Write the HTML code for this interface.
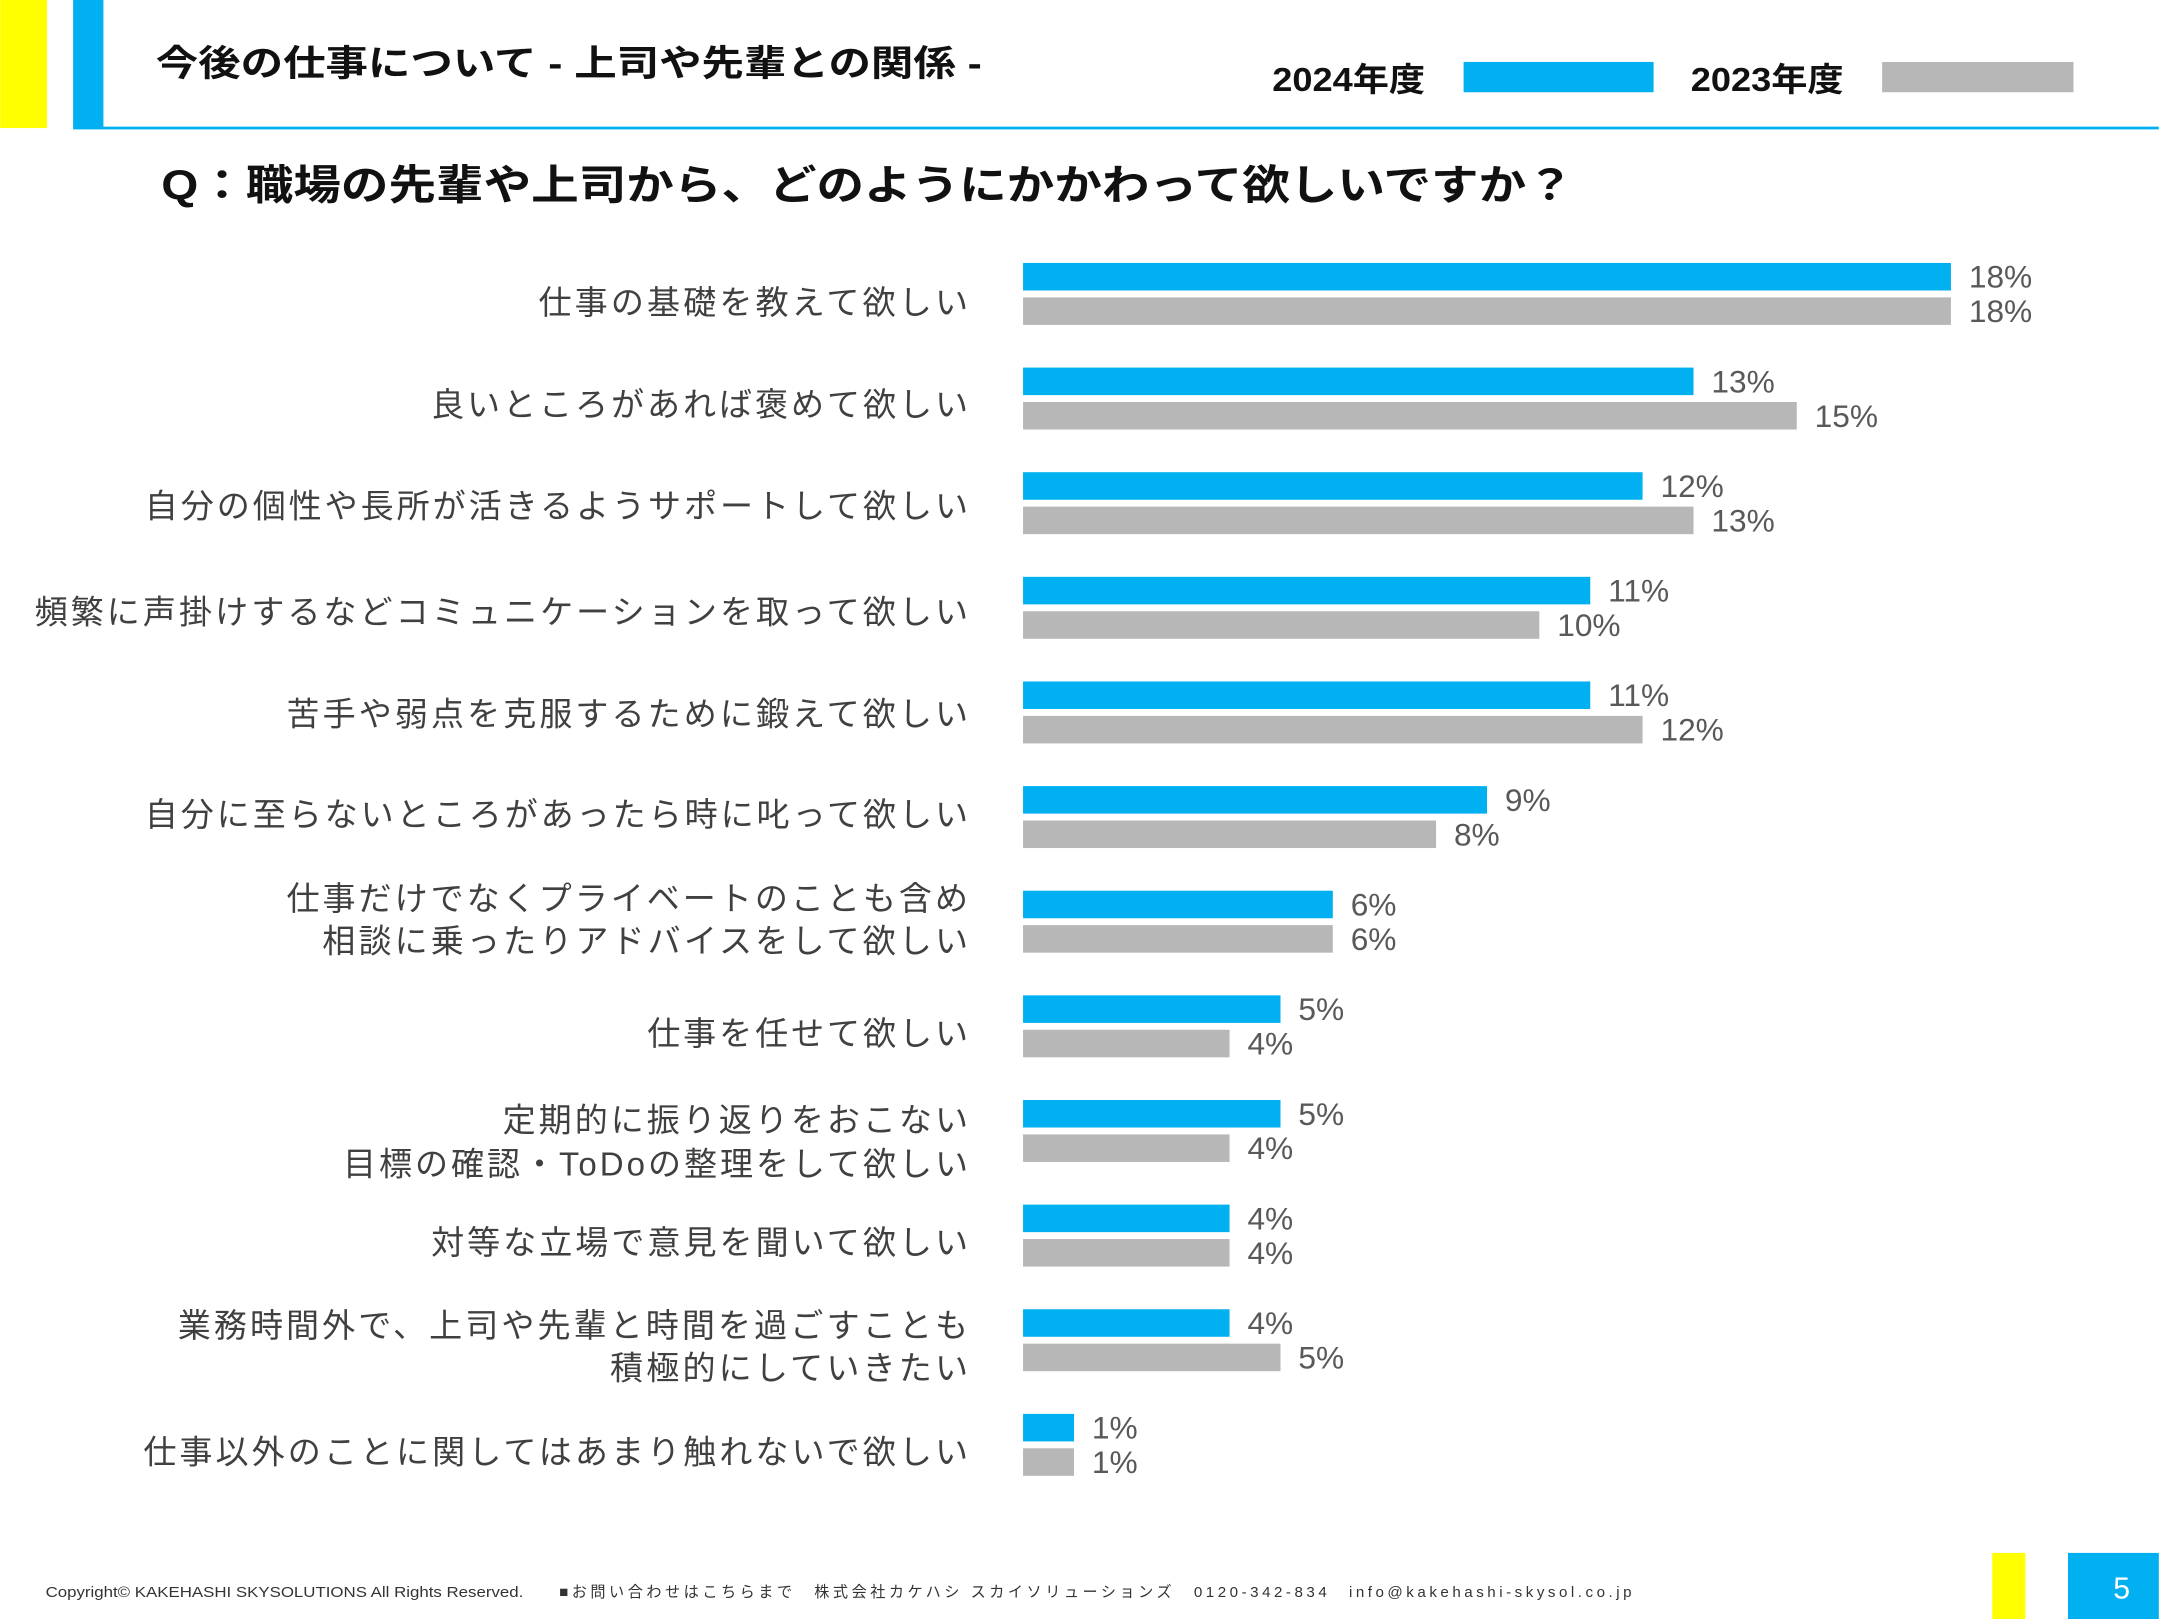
<!DOCTYPE html>
<html><head><meta charset="utf-8"><style>
html,body{margin:0;padding:0;background:#fff;}
svg{display:block;}
text{font-family:"Liberation Sans","Noto Sans CJK JP",sans-serif;}
</style></head><body>
<svg width="2159" height="1619" viewBox="0 0 1568 1176" xmlns="http://www.w3.org/2000/svg">
<rect x="0" y="0" width="34" height="93" fill="#ffff00"/>
<rect x="53" y="0" width="22" height="93" fill="#00b0f0"/>
<rect x="53" y="92" width="1515" height="2" fill="#00b0f0"/>
<text x="113" y="55" font-size="26" font-weight="bold" fill="#111" textLength="600" lengthAdjust="spacingAndGlyphs">今後の仕事について - 上司や先輩との関係 -</text>
<text x="924" y="66" font-size="24" font-weight="bold" fill="#111" textLength="111" lengthAdjust="spacingAndGlyphs">2024年度</text>
<rect x="1063" y="45" width="138" height="22" fill="#00b0f0"/>
<text x="1228" y="66" font-size="24" font-weight="bold" fill="#111" textLength="111" lengthAdjust="spacingAndGlyphs">2023年度</text>
<rect x="1367" y="45" width="139" height="22" fill="#b7b7b7"/>
<text x="117" y="145" font-size="30" font-weight="bold" fill="#111" textLength="1026" lengthAdjust="spacingAndGlyphs">Q：職場の先輩や上司から、どのようにかかわって欲しいですか？</text>
<g font-size="24" fill="#404040" text-anchor="end" lengthAdjust="spacing">
<text x="703" y="228" textLength="312">仕事の基礎を教えて欲しい</text>
<text x="703" y="302" textLength="390">良いところがあれば褒めて欲しい</text>
<text x="703" y="376" textLength="598">自分の個性や長所が活きるようサポートして欲しい</text>
<text x="703" y="453" textLength="678">頻繁に声掛けするなどコミュニケーションを取って欲しい</text>
<text x="703" y="527" textLength="495">苦手や弱点を克服するために鍛えて欲しい</text>
<text x="703" y="600" textLength="598">自分に至らないところがあったら時に叱って欲しい</text>
<text x="703" y="661" textLength="495">仕事だけでなくプライベートのことも含め</text>
<text x="703" y="692" textLength="469">相談に乗ったりアドバイスをして欲しい</text>
<text x="703" y="759" textLength="233">仕事を任せて欲しい</text>
<text x="703" y="822" textLength="338">定期的に振り返りをおこない</text>
<text x="703" y="854" textLength="454">目標の確認・ToDoの整理をして欲しい</text>
<text x="703" y="911" textLength="390">対等な立場で意見を聞いて欲しい</text>
<text x="703" y="971" textLength="574">業務時間外で、上司や先輩と時間を過ごすことも</text>
<text x="703" y="1002" textLength="260">積極的にしていきたい</text>
<text x="703" y="1063" textLength="599">仕事以外のことに関してはあまり触れないで欲しい</text>
</g>
<g fill="#00b0f0">
<rect x="743" y="191" width="674" height="20"/>
<rect x="743" y="267" width="487" height="20"/>
<rect x="743" y="343" width="450" height="20"/>
<rect x="743" y="419" width="412" height="20"/>
<rect x="743" y="495" width="412" height="20"/>
<rect x="743" y="571" width="337" height="20"/>
<rect x="743" y="647" width="225" height="20"/>
<rect x="743" y="723" width="187" height="20"/>
<rect x="743" y="799" width="187" height="20"/>
<rect x="743" y="875" width="150" height="20"/>
<rect x="743" y="951" width="150" height="20"/>
<rect x="743" y="1027" width="37" height="20"/>
</g>
<g fill="#b7b7b7">
<rect x="743" y="216" width="674" height="20"/>
<rect x="743" y="292" width="562" height="20"/>
<rect x="743" y="368" width="487" height="20"/>
<rect x="743" y="444" width="375" height="20"/>
<rect x="743" y="520" width="450" height="20"/>
<rect x="743" y="596" width="300" height="20"/>
<rect x="743" y="672" width="225" height="20"/>
<rect x="743" y="748" width="150" height="20"/>
<rect x="743" y="824" width="150" height="20"/>
<rect x="743" y="900" width="150" height="20"/>
<rect x="743" y="976" width="187" height="20"/>
<rect x="743" y="1052" width="37" height="20"/>
</g>
<g font-size="23" fill="#595959">
<text x="1430" y="209">18%</text><text x="1430" y="234">18%</text>
<text x="1243" y="285">13%</text><text x="1318" y="310">15%</text>
<text x="1206" y="361">12%</text><text x="1243" y="386">13%</text>
<text x="1168" y="437">11%</text><text x="1131" y="462">10%</text>
<text x="1168" y="513">11%</text><text x="1206" y="538">12%</text>
<text x="1093" y="589">9%</text><text x="1056" y="614">8%</text>
<text x="981" y="665">6%</text><text x="981" y="690">6%</text>
<text x="943" y="741">5%</text><text x="906" y="766">4%</text>
<text x="943" y="817">5%</text><text x="906" y="842">4%</text>
<text x="906" y="893">4%</text><text x="906" y="918">4%</text>
<text x="906" y="969">4%</text><text x="943" y="994">5%</text>
<text x="793" y="1045">1%</text><text x="793" y="1070">1%</text>
</g>
<text x="33" y="1160" font-size="11" fill="#333" textLength="347" lengthAdjust="spacingAndGlyphs">Copyright© KAKEHASHI SKYSOLUTIONS All Rights Reserved.</text>
<text x="406" y="1160" font-size="11" fill="#333" textLength="779" lengthAdjust="spacing">■お問い合わせはこちらまで　株式会社カケハシ スカイソリューションズ　0120-342-834　info@kakehashi-skysol.co.jp</text>
<rect x="1447" y="1128" width="24" height="48" fill="#ffff00"/>
<rect x="1502" y="1128" width="66" height="48" fill="#00b0f0"/>
<text x="1541" y="1161" font-size="22" fill="#fff" text-anchor="middle">5</text>
</svg>
</body></html>
